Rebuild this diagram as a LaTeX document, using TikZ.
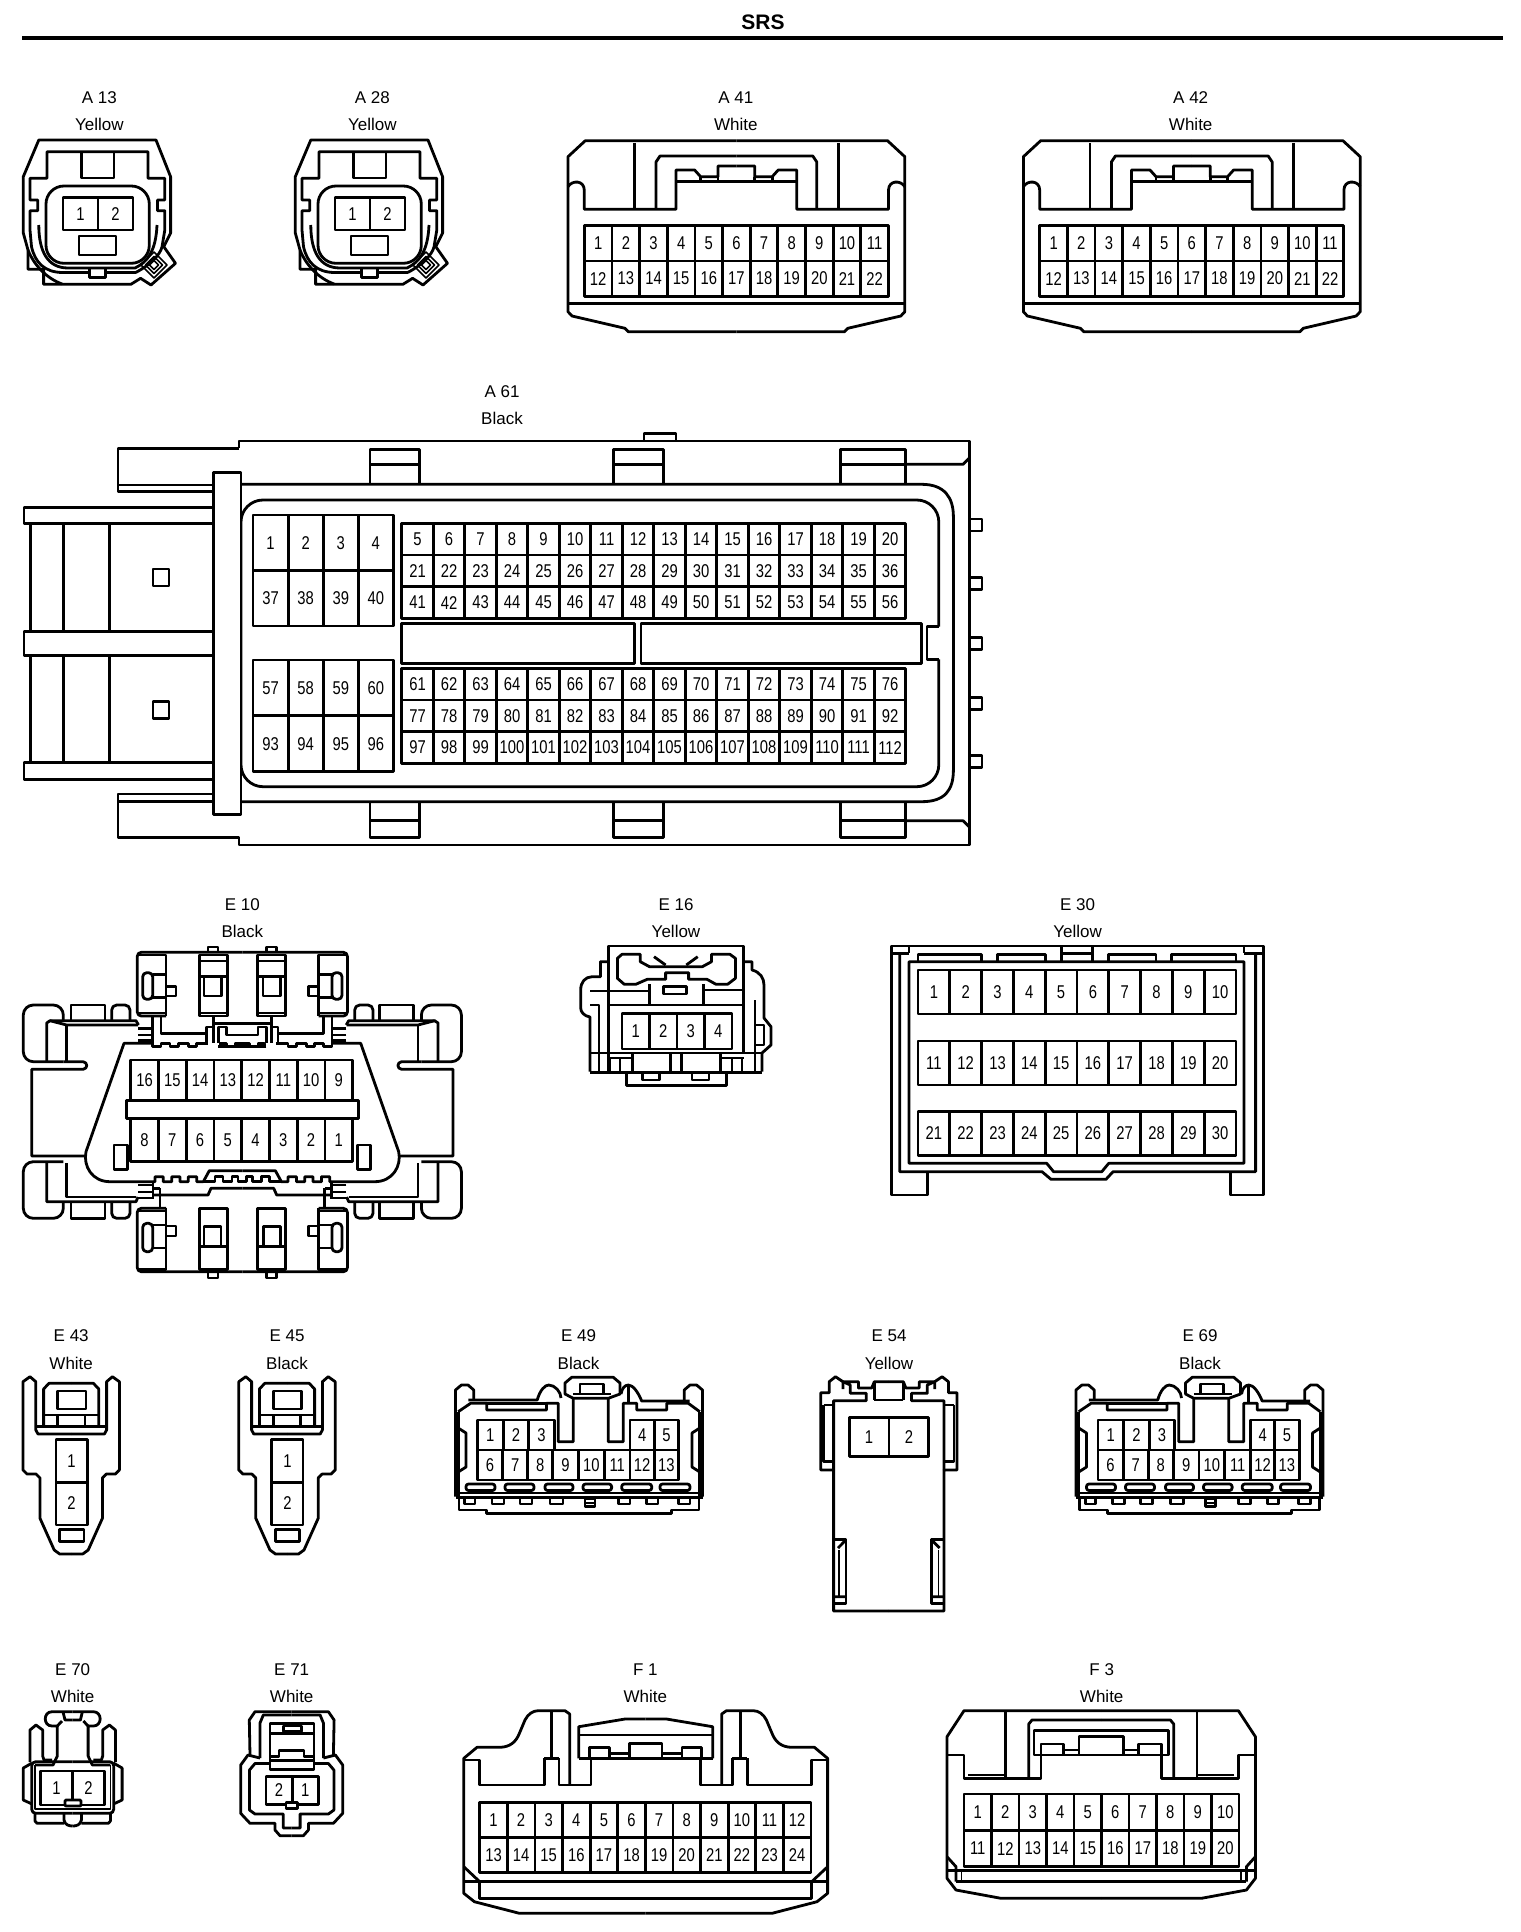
\documentclass[tikz,border=0pt]{standalone}
\usepackage{fontspec}
\setmainfont{Liberation Sans}
\newfontfamily\pinfont[FakeStretch=0.8]{Liberation Sans}

% Stili
\tikzset{
    pincell/.style={draw,rectangle,inner sep=0pt,fill=white,font={\pinfont\fontsize{18.5}{18.5}\selectfont}},
    tag/.style={anchor=base,inner sep=0pt,font={\fontsize{17}{17}\selectfont}},
    fineline/.style={line width=1.5pt},
    mirror/.style={shift={(#1,0)},xscale=-1}
}

% Una fila di pin: x, y, larghezza, altezza, nome, numeri
\newcommand{\pinrow}[6]{%
    \foreach \num [count=\i from 0] in {#6}{
        \node[pincell,minimum width=#3pt,minimum height=#4pt] (#5-\num) at ({#1+(\i+.5)*#3},{#2+.5*#4}) {\num};
    }
}
% Nome e colore del connettore
\newcommand{\conntag}[6]{%
    \node[tag] (#1) at (#2,#3) {#5};
    \node[tag] (#1c) at (#2,#4) {#6};
}
% Disegna una meta e la sua immagine
\newcommand{\bothsides}[2]{%
    \begin{scope}#2\end{scope}
    \begin{scope}[mirror=#1]#2\end{scope}
}

\begin{document}
\begin{tikzpicture}[x=1pt,y=-1pt,line width=2.8pt,line join=round]
    \useasboundingbox (0,0) rectangle (1520,1932);

    % Titolo
    \node[inner sep=0pt,anchor=base,font={\bfseries\fontsize{21}{21}\selectfont}] (title) at (763,30) {SRS};
    \coordinate (ruleL) at (22,38);
    \coordinate (ruleR) at (1503,38);
    \draw[line width=4pt] (ruleL) -- (ruleR);

    % Etichette
    \conntag{a13}{99.4}{104}{131}{A 13}{Yellow}
    \conntag{a28}{372.3}{104}{131}{A 28}{Yellow}
    \conntag{a41}{735.8}{104}{131}{A 41}{White}
    \conntag{a42}{1190.7}{104}{131}{A 42}{White}
    \conntag{a61}{502}{397.7}{424}{A 61}{Black}
    \conntag{e10}{242.3}{910}{937.7}{E 10}{Black}
    \conntag{e16}{676}{910}{937.7}{E 16}{Yellow}
    \conntag{e30}{1077.5}{910}{937.7}{E 30}{Yellow}
    \conntag{e43}{71.2}{1341}{1369.3}{E 43}{White}
    \conntag{e45}{287}{1341}{1369.3}{E 45}{Black}
    \conntag{e49}{578.5}{1341}{1369.3}{E 49}{Black}
    \conntag{e54}{889}{1341}{1369.3}{E 54}{Yellow}
    \conntag{e69}{1200}{1341}{1369.3}{E 69}{Black}
    \conntag{e70}{72.7}{1675.3}{1702.7}{E 70}{White}
    \conntag{e71}{291.7}{1675.3}{1702.7}{E 71}{White}
    \conntag{f1}{645.4}{1675.3}{1702.7}{F 1}{White}
    \conntag{f3}{1101.7}{1675.3}{1702.7}{F 3}{White}

    % Disegna A 13 e A 28
    \foreach \nm/\dx in {pa13/0,pa28/272}{
        \begin{scope}[shift={(\dx,0)}]
            \draw (38.8,140) -- (156,140) -- (170.6,176.7) -- (170.6,233) -- (163.8,246.7) -- (175.5,263.3) -- (151,285) -- (140.6,278.3) -- (130.9,284.3) -- (43.6,284.3) -- (43.6,269.3) -- (28,269.3) -- (28,250) -- (23.3,233) -- (23.3,176.7) -- cycle;
            \draw (135.7,272.5) .. controls (150,265) and (160,255) .. (162,247) -- (164.8,230) -- (164.8,210.7) -- (157.5,210.7) -- (157.5,200) -- (164.8,200) -- (164.8,178.3) -- (148,178.3) -- (148,151.7) -- (47,151.7) -- (47,178.3) -- (30,178.3) -- (30,200) -- (37.8,200) -- (37.8,210.7) -- (30,210.7) -- (30,230) -- (31.5,246.7) .. controls (35,262) and (44,272.5) .. (63,272.5) -- (89.7,272.5);
            \draw (89.7,268.3) -- (89.7,277.3) -- (105.7,277.3) -- (105.7,268.3);
            \draw (105.7,272.5) -- (135.7,272.5);
            \draw (81.4,151.7) -- (81.4,178) -- (114,178) -- (114,151.7);
            \draw[rounded corners=18pt] (46,186) rectangle (149.3,263.3);
            \draw (38.8,225) .. controls (38.8,252) and (48,268) .. (68,268) -- (135,268) .. controls (148,262) and (156,250) .. (157,225);
            \draw (28,250) .. controls (34,265) and (46,278) .. (62,284);
            \pinrow{63}{197.3}{35}{32.7}{\nm}{1,2}
            \draw (79,236) rectangle (116,255);
            \foreach \r in {13,8.5,4.5}{
                \draw[fineline] (154-\r,265) -- (154,265-\r) -- (154+\r,265) -- (154,265+\r) -- cycle;
            }
        \end{scope}
    }

    % Disegna A 41 e A 42
    \foreach \nm/\dx in {pa41/0,pa42/455.4}{
        \begin{scope}[shift={(\dx,0)}]
            \bothsides{1472.8}{
                \draw (736.4,140.7) -- (585.3,140.7) -- (568,156.7) -- (568,311.7) -- (572,316) -- (625,328.3) -- (628.3,331.7) -- (736.4,331.7);
                \draw (568,186.7) .. controls (572,180) and (584,180) .. (584.3,190) -- (584.3,209.3) -- (676,209.3) -- (676,170) -- (694.6,170) -- (700.6,176.7) -- (718,176.7) -- (718,166) -- (736.4,166);
                \draw (634.6,143) -- (634.6,209.3);
                \draw (656,209.3) -- (656,162) -- (660,156) -- (736.4,156);
                \draw (676,181.7) -- (736.4,181.7);
                \draw (700.6,176.7) -- (700.6,181.7) (718,176.7) -- (718,181.7);
            }
            \draw (568,303.5) -- (904.8,303.5);
            \pinrow{584.4}{225.7}{27.64}{35.2}{\nm}{1,...,11}
            \pinrow{584.4}{261}{27.64}{35.2}{\nm}{12,...,22}
        \end{scope}
    }

    % Disegna A 61
    \draw (239,448.3) -- (239,441) -- (969.4,441) -- (969.4,845) -- (239,845) -- (239,837.3) -- (118,837.3) -- (118,794) -- (213.6,794);
    \draw (239,448.3) -- (118,448.3) -- (118,491.7) -- (213.6,491.7);
    \draw (118,485) -- (213.6,485) (118,801.7) -- (213.6,801.7);
    \draw (644,441) -- (644,433.3) -- (676,433.3) -- (676,441);
    \foreach \lx/\lw in {370/49.6,613.5/49.8,840.5/65.1}{
        \draw (\lx,483.3) -- (\lx,449.3) -- (\lx+\lw,449.3) -- (\lx+\lw,483.3);
        \draw (\lx,464.3) -- (\lx+\lw,464.3);
        \draw (\lx,803) -- (\lx,837.3) -- (\lx+\lw,837.3) -- (\lx+\lw,803);
        \draw (\lx,820.7) -- (\lx+\lw,820.7);
    }
    \draw (905.6,464.3) -- (963,464.3) -- (969.4,458);
    \draw (905.6,820.7) -- (963,820.7) -- (969.4,827);
    \draw (241,484.3) -- (921.6,484.3) .. controls (945,484.3) and (953.4,498) .. (953.4,516.7) -- (953.4,770) .. controls (953.4,790) and (945,801.7) .. (921.6,801.7) -- (241,801.7);
    \draw (241,491.7) .. controls (230,498) and (224.5,508) .. (224.5,520) -- (224.5,766.7) .. controls (224.5,780) and (230,788) .. (241,794);
    \draw[rounded corners=22pt] (938.8,626.7) -- (938.8,500) -- (241,500) -- (241,786.7) -- (938.8,786.7) -- (938.8,659.3);
    \draw (938.8,626.7) -- (927,626.7) -- (927,659.3) -- (938.8,659.3);
    \draw[fill=white] (213.6,472.7) rectangle (241,814.3);
    \pinrow{253}{515}{35.1}{55.5}{pa61}{1,...,4}
    \pinrow{253}{570.5}{35.1}{55.5}{pa61}{37,...,40}
    \pinrow{253}{660}{35.1}{55.8}{pa61}{57,...,60}
    \pinrow{253}{715.8}{35.1}{55.8}{pa61}{93,...,96}
    \pinrow{401.8}{523.3}{31.5}{31.7}{pa61}{5,...,20}
    \pinrow{401.8}{555}{31.5}{31.7}{pa61}{21,...,36}
    \pinrow{401.8}{586.7}{31.5}{31.7}{pa61}{41,...,56}
    \pinrow{401.8}{668.3}{31.5}{31.7}{pa61}{61,...,76}
    \pinrow{401.8}{700}{31.5}{31.7}{pa61}{77,...,92}
    \pinrow{401.8}{731.7}{31.5}{31.7}{pa61}{97,...,112}
    \draw (401.8,623.3) rectangle (634.6,663.3);
    \draw (641,623.3) rectangle (921.6,663.3);
    \foreach \ty in {525,583.3,643.3,703.3,761.7}{
        \draw (969.4,\ty-6) -- (982,\ty-6) -- (982,\ty+6) -- (969.4,\ty+6);
    }
    \draw (213.6,507.3) -- (24,507.3) -- (24,523.3) -- (213.6,523.3);
    \draw (213.6,631.7) -- (24,631.7) -- (24,655.7) -- (213.6,655.7);
    \draw (213.6,762.7) -- (24,762.7) -- (24,779.3) -- (213.6,779.3);
    \foreach \vx in {30.6,63.8,109.7}{
        \draw (\vx,523.3) -- (\vx,631.7) (\vx,655.7) -- (\vx,762.7);
    }
    \draw (153,569) rectangle (169,586);
    \draw (153,701.7) rectangle (169,718.3);

    % Disegna E 10
    \bothsides{484.7}{
        % parte alta
        \draw[rounded corners=4pt] (242.4,952.3) -- (137.3,952.3) -- (137.3,1016) -- (166,1016);
        \draw (137.3,955) -- (166,955) -- (166,1016);
        \draw[rounded corners=4pt] (142.7,972.7) rectangle (152.7,999.3);
        \draw (152.7,974.3) -- (166,974.3) (152.7,997.3) -- (166,997.3) (137.3,1013) -- (166,1013);
        \draw (166,986.7) -- (176,986.7) -- (176,996) -- (166,996);
        \draw (199.3,955) rectangle (227.3,1016);
        \draw (199.3,961) -- (227.3,961) (199.3,976.7) -- (227.3,976.7) (199.3,1013) -- (227.3,1013);
        \draw (204,976.7) -- (204,996) -- (221.7,996) -- (221.7,976.7);
        \draw (208,952.3) -- (208,947) -- (218,947) -- (218,952.3);
        \draw (213.3,1016) -- (213.3,1043) (213.3,1023.3) -- (242.4,1023.3);
        \draw (218.3,1043) -- (218.3,1027) -- (226.7,1027) -- (226.7,1035) -- (242.4,1035);
        \draw (152.7,1016) -- (152.7,1043) (161,1016) -- (161,1033.3) -- (206.7,1033.3) -- (206.7,1027) -- (213.3,1027);
        \draw (206.7,1033.3) -- (206.7,1043);
        \draw (138.3,1028.3) -- (152.7,1028.3) (138.3,1035) -- (152.7,1035) (138.3,1040.7) -- (152.7,1040.7);
        \draw (152.7,1043.3) -- (152.7,1046.7) -- (161,1046.7) -- (161,1043.3) -- (170,1043.3) -- (170,1046.7) -- (178.3,1046.7) -- (178.3,1043.3) -- (188.3,1043.3) -- (188.3,1046.7) -- (196.7,1046.7) -- (196.7,1043.3) -- (208.3,1043.3);
        \draw (220,1046.7) -- (220,1043.3) -- (226.7,1043.3) -- (226.7,1046.7) -- (235,1046.7) -- (235,1043.3) -- (242.4,1043.3);
        \draw (218.3,1046.7) -- (242.4,1046.7);
        % contorno
        \draw (152.7,1043.3) -- (124,1043.3) -- (86,1151.7) .. controls (83,1166) and (92,1181.7) .. (110,1181.7) -- (155,1181.7) -- (155,1176.7) -- (163.3,1176.7) -- (163.3,1181.7) -- (171.7,1181.7) -- (171.7,1176.7) -- (180,1176.7) -- (180,1181.7) -- (188.3,1181.7) -- (188.3,1176.7) -- (196.7,1176.7) -- (196.7,1181.7) -- (203.3,1181.7) -- (209.3,1170.7) -- (242.4,1170.7);
        \draw (203.3,1181.7) -- (215,1181.7) -- (215,1176.7) -- (223,1176.7) -- (223,1181.7) -- (232,1181.7) -- (232,1176.7) -- (238,1176.7) -- (238,1181.7) -- (242.4,1181.7);
        % orecchie
        \draw[rounded corners=10pt] (63.3,1020) -- (63.3,1005) -- (23.3,1005) -- (23.3,1061.7) -- (63.3,1061.7);
        \draw (71,1020) -- (71,1005) -- (105,1005) -- (105,1020);
        \draw[rounded corners=5pt] (111.7,1020) -- (111.7,1005) -- (130,1005) -- (130,1020);
        \draw (46.7,1061.7) -- (46.7,1023) -- (50,1020.7) -- (136,1020.7) -- (138.5,1025);
        \draw (50,1020.7) -- (66.7,1025) -- (138,1025);
        \draw (66.7,1025) -- (66.7,1061.7);
        \draw (63.3,1061.7) -- (83,1061.7) .. controls (88,1062) and (88,1069) .. (83,1069.3) -- (31.7,1069.3) -- (31.7,1156) -- (85,1156);
        \draw[rounded corners=10pt] (63.3,1161.7) -- (23.3,1161.7) -- (23.3,1218.3) -- (63.3,1218.3) -- (63.3,1201);
        \draw (71,1201.7) -- (71,1218.3) -- (105,1218.3) -- (105,1201.7);
        \draw[rounded corners=5pt] (111.7,1201.7) -- (111.7,1218.3) -- (130,1218.3) -- (130,1201.7);
        \draw (46.7,1163) -- (46.7,1201.7) -- (136,1201.7) -- (138,1197);
        \draw (66.7,1163) -- (66.7,1197) -- (136,1197);
        % parte bassa
        \draw[rounded corners=4pt] (242.4,1271.7) -- (137.3,1271.7) -- (137.3,1208.3) -- (166,1208.3);
        \draw (166,1208.3) -- (166,1269.5) -- (137.3,1269.5) (137.3,1211) -- (166,1211);
        \draw[rounded corners=4pt] (142.7,1223.3) rectangle (152.7,1251.7);
        \draw (152.7,1225) -- (166,1225) (152.7,1248) -- (166,1248);
        \draw (166,1226) -- (176,1226) -- (176,1236) -- (166,1236);
        \draw (199.3,1208.3) rectangle (227.3,1269.5);
        \draw (199.3,1246.7) -- (227.3,1246.7);
        \draw (204,1246.7) -- (204,1226.7) -- (221,1226.7) -- (221,1246.7);
        \draw (208,1271.7) -- (208,1278) -- (218,1278) -- (218,1271.7);
        \draw (153.3,1195) -- (208,1195) -- (211,1188.3) -- (242.4,1188.3);
        \draw (138.3,1185) -- (153,1185) (138.3,1192) -- (153,1192) (138.3,1198) -- (153,1198);
        \draw (153,1181.7) -- (153,1199) (160,1188.3) -- (160,1208.3) (153,1188.3) -- (160,1188.3);
    }
    \pinrow{130.7}{1060}{27.75}{40.7}{pe10}{16,15,14,13,12,11,10,9}
    \pinrow{130.7}{1118.3}{27.75}{43.4}{pe10}{8,7,6,5,4,3,2,1}
    \draw[fill=white] (126.7,1100.7) rectangle (358.3,1118.3);
    \draw (114,1145) rectangle (127.3,1169.3);
    \draw (357.3,1145) rectangle (370.3,1169.3);

    % Disegna E 16
    \draw (608.2,1005) -- (608.2,946) -- (743.7,946) -- (743.7,1005);
    \draw (703.3,990) -- (743.7,990);
    \draw (622,954.3) -- (640.3,954.3) -- (640.3,961.7) -- (649.5,966.7) -- (702.3,966.7) -- (711.5,961.7) -- (711.5,954.3) -- (729.9,954.3) -- (735.4,958.3) -- (735.4,978.3) -- (727.6,984.3) -- (716,984.3) -- (707,979.3) -- (688.6,979.3) -- (688.6,972.7) -- (665.6,972.7) -- (665.6,979.3) -- (647.2,979.3) -- (635.8,984.3) -- (624.3,984.3) -- (617.4,978.3) -- (617.4,958.3) -- cycle;
    \draw (654,956.7) -- (665.6,965) (697.7,956.7) -- (686.3,965);
    \draw (608.2,961.7) -- (600.4,961.7) -- (600.4,976.7) -- (592,976.7) .. controls (585,977) and (580.7,982) .. (580.7,990) -- (580.7,1008) .. controls (580.7,1012) and (584,1016) .. (590,1017) -- (590,1071.7);
    \draw (590,991) -- (649.5,991) (590,1005) -- (599,1005) -- (599,1071.7);
    \draw (608.2,1071.7) -- (608.2,1005) -- (743.7,1005) -- (743.7,1053);
    \draw (649.5,984.3) -- (649.5,1005) (703.3,984.3) -- (703.3,1005);
    \draw (663.3,986.7) rectangle (686.3,994);
    \draw (743.7,961.7) -- (752,961.7) -- (752,970) .. controls (760,972) and (764,978) .. (764,985) -- (764,1018) -- (771,1026.7) -- (771,1045) -- (762,1053) -- (762,1071.7);
    \draw (755,1000) -- (755,1071.7) (755,1025) -- (764,1025) -- (764,1045) -- (755,1045);
    \pinrow{622}{1013.3}{27.5}{35.7}{pe16}{1,2,3,4}
    \draw (590,1053) -- (762,1053) (590,1072.3) -- (762,1072.3);
    \draw (632.5,1053) rectangle (670.2,1072.3);
    \draw (681.7,1053) rectangle (720.7,1072.3);
    \draw (610,1058) -- (610,1072) (620,1058) -- (620,1072) (732,1058) -- (732,1072) (742,1058) -- (742,1072);
    \draw (608.2,1058) -- (632.5,1058) (720.7,1058) -- (743.7,1058);
    \draw (626.6,1072.3) -- (626.6,1085.7) -- (726.2,1085.7) -- (726.2,1072.3);
    \draw (642.6,1072.3) -- (642.6,1080) -- (659.6,1080) -- (659.6,1072.3);
    \draw (692,1072.3) -- (692,1080) -- (709,1080) -- (709,1072.3);

    % Disegna E 30
    \draw (927.6,1171.7) -- (927.6,1195) -- (891.5,1195) -- (891.5,946) -- (1263.4,946) -- (1263.4,1195) -- (1230.3,1195) -- (1230.3,1171.7);
    \draw (899.8,953.3) -- (899.8,1171.7) -- (1042,1171.7) -- (1051,1179.3) -- (1106,1179.3) -- (1113,1171.7) -- (1255.6,1171.7) -- (1255.6,953.3);
    \draw (909,961.7) -- (1244,961.7) -- (1244,1163.3) -- (1108.7,1163.3) -- (1101.8,1171.7) -- (1053.6,1171.7) -- (1046.7,1163.3) -- (909,1163.3) -- cycle;
    \draw (891.5,953.3) -- (909,953.3) (1244,953.3) -- (1263.4,953.3);
    \draw (909,946) -- (909,953.3) (1244,946) -- (1244,953.3);
    \foreach \tl/\tr in {918/981.5,997.6/1045.8,1108.7/1156,1171.6/1235.9}{
        \draw (\tl,961.7) -- (\tl,954.3) -- (\tr,954.3) -- (\tr,961.7);
    }
    \draw (1061.4,946) -- (1061.4,961.7) (1092.6,946) -- (1092.6,961.7) (1061.4,953.3) -- (1092.6,953.3);
    \pinrow{918}{970}{31.8}{44}{pe30}{1,...,10}
    \pinrow{918}{1041}{31.8}{44}{pe30}{11,...,20}
    \pinrow{918}{1111.5}{31.8}{44}{pe30}{21,...,30}

    % Disegna E 43 e E 45
    \foreach \nm/\dx in {pe43/0,pe45/215.8}{
        \begin{scope}[shift={(\dx,0)}]
            \bothsides{142.4}{
                \draw (71.2,1554) -- (59.7,1554) -- (54.2,1550) -- (40,1518.3) -- (40,1478) -- (36,1474) -- (27,1474) -- (23,1470) -- (23,1381.7) -- (30,1376.7) -- (35.8,1381.7) -- (35.8,1430) -- (38,1434) -- (71.2,1434);
                \draw (71.2,1383.3) -- (49,1383.3) -- (43.6,1389) -- (43.6,1426.7);
                \draw (35.8,1426.7) -- (71.2,1426.7) (43.6,1415) -- (71.2,1415) (57.4,1415) -- (57.4,1426.7);
            }
            \draw (57.4,1391) rectangle (85.9,1409);
            \pinrow{56}{1439.3}{31.2}{42.8}{\nm}{1}
            \pinrow{56}{1482.1}{31.2}{42.8}{\nm}{2}
            \draw (59.7,1529.3) rectangle (84,1541.7);
        \end{scope}
    }

    % Disegna E 49 e E 69
    \foreach \nm/\dx in {pe49/0,pe69/620.5}{
        \begin{scope}[shift={(\dx,0)}]
            \bothsides{1158}{
                \draw (455.5,1496.7) -- (455.5,1390) -- (461.4,1385) -- (468,1385) -- (473.8,1390) -- (473.8,1400);
                \draw (458.2,1428) -- (466,1433) -- (466,1467) -- (458.2,1472);
                \draw (459,1497.3) -- (459,1510) -- (486.7,1510) -- (486.7,1513.3) -- (579,1513.3);
                \draw (455.5,1497.3) -- (579,1497.3) (458.2,1493) -- (579,1493);
                \draw (458.2,1496.7) -- (458.2,1411.7);
            }
            % lato sinistro del corpo
            \draw (468.3,1400) -- (537.2,1400) .. controls (540,1390) and (545,1385) .. (548.7,1385) .. controls (555,1385) and (561,1392) .. (561,1398);
            \draw (458.2,1411.7) -- (470.6,1403.3) -- (486.7,1403.3) -- (486.7,1410) -- (546.4,1410) -- (546.4,1403.3) -- (558.3,1403.3) -- (558.3,1441.7) -- (573.3,1441.7) -- (573.3,1398.3);
            \draw (486.7,1403.3) -- (546.4,1403.3);
            % lato destro del corpo
            \draw (621,1394) .. controls (622,1388) and (625,1385) .. (628.3,1385) .. controls (633,1385) and (638,1392) .. (641.7,1401) -- (689.7,1401);
            \draw (699.8,1411.7) -- (688.3,1403.3) -- (666.7,1403.3) -- (666.7,1410) -- (636.7,1410) -- (636.7,1403.3) -- (623.3,1403.3) -- (623.3,1441.7) -- (608.3,1441.7) -- (608.3,1398.3);
            \draw (628.3,1386) -- (628.3,1403.3);
            % linguetta
            \draw (565,1394) -- (565,1383) -- (571.7,1377.3) -- (613.3,1377.3) -- (620,1383) -- (620,1394) -- (608.3,1398.3) -- (573.3,1398.3) -- cycle;
            \draw (573.3,1394) -- (611,1394);
            \draw (580,1384) rectangle (603.3,1394);
            \pinrow{477.5}{1420}{25.6}{30}{\nm}{1,2,3}
            \pinrow{630}{1420}{24.3}{30}{\nm}{4,5}
            \pinrow{477.5}{1450}{25.1}{30}{\nm}{6,7,8}
            \pinrow{552.7}{1450}{25.8}{30}{\nm}{9,10,11}
            \pinrow{630}{1450}{24.3}{30}{\nm}{12,13}
            \foreach \sl/\sr in {466/495,505/534,545/573,583/611.6,621.7/651.7,660/690}{
                \draw[rounded corners=2.5pt] (\sl,1484) rectangle (\sr,1490.5);
            }
            \foreach \sl/\sr in {464.6/475,492/504,520/532,550/563,618.3/630,646.7/658,678.3/690}{
                \draw (\sl,1499) -- (\sl,1504) -- (\sr,1504) -- (\sr,1499);
            }
            \draw (585,1499) rectangle (595,1506.5);
            \draw (585,1503) -- (595,1503);
        \end{scope}
    }

    % Disegna E 54
    \bothsides{1777.6}{
        \draw (888.8,1611) -- (833.6,1611) -- (833.6,1470) -- (820.7,1470) -- (820.7,1392.7) -- (829.2,1392.7) -- (829.2,1381.7) -- (835.5,1376.7) -- (842.9,1381.7) -- (842.9,1389);
        \draw (833.6,1470) -- (833.6,1400.7) -- (866.2,1400.7) -- (866.2,1393.3) -- (850.3,1393.3) -- (850.3,1385) -- (842.9,1381.7) -- (858.4,1381.7) -- (858.4,1388) -- (871.7,1388) -- (874.3,1381.7) -- (888.8,1381.7);
        \draw (874.3,1381.7) -- (874.3,1400);
        \draw (874.3,1400) -- (888.8,1400);
        \draw (823.7,1405) -- (833.6,1405) (823.7,1405) -- (823.7,1461.7) -- (833.6,1461.7);
        \draw (834.8,1539.3) -- (845.9,1539.3) -- (845.9,1603.3) -- (834.8,1603.3);
        \draw (834.8,1596.7) -- (845.9,1596.7) (838,1548) -- (845.9,1540);
        \draw[fineline] (839,1550) -- (839,1596);
    }
    \pinrow{849.2}{1417.3}{39.8}{39.4}{pe54}{1,2}

    % Disegna E 70
    \bothsides{145.4}{
        \draw (72.7,1711.7) -- (52,1711.7) .. controls (43,1711.7) and (43,1726) .. (52,1726) -- (57.3,1726) -- (57.3,1756) -- (53,1765) -- (35,1765);
        \draw (63,1711.7) -- (65,1720) -- (72.7,1720);
        \draw (57.3,1726) -- (62,1721);
        \draw (52,1760) -- (44,1760) -- (42.7,1756) -- (42.7,1730) -- (36,1725) -- (30,1730) -- (30,1762);
        \draw (32,1763) -- (23.3,1768) -- (23.3,1800) -- (32,1804);
        \draw[rounded corners=4pt] (72.7,1761.7) -- (31.7,1761.7) -- (31.7,1813.3) -- (72.7,1813.3);
        \draw[fineline] (72.7,1809) -- (35,1809) -- (35,1765);
        \draw (35,1813.3) -- (35,1821) -- (37,1823.3) -- (64,1823.3);
        \draw (64,1813.3) -- (64,1820) .. controls (65,1825) and (69,1826) .. (72.7,1826);
    }
    \pinrow{40.7}{1771}{31.8}{34}{pe70}{1,2}
    \draw[fill=white,rounded corners=1pt] (65,1800) rectangle (81,1806);

    % Disegna E 71
    \bothsides{583.4}{
        \draw (291.7,1835.7) -- (280,1835.7) -- (275,1830) -- (275,1823.3) -- (250,1823.3) -- (240.7,1813.3) -- (240.7,1765) -- (248,1755) -- (260,1758);
        \draw (250,1755) -- (249.3,1720) -- (255,1711.7) -- (291.7,1711.7);
        \draw (260,1758) -- (260,1723) -- (263.3,1715) -- (291.7,1715);
        \draw (291.7,1828) -- (283.3,1828) -- (283.3,1814) -- (255,1814) -- (249.5,1810) -- (249.5,1770) -- (255,1763.5) -- (270,1763.5);
    }
    \draw (270,1723.3) rectangle (314,1769.3);
    \draw (270,1733.3) -- (314,1733.3) (270,1760.7) -- (314,1760.7);
    \draw (283.3,1726) rectangle (301.7,1731.7);
    \draw (270,1756.7) -- (279,1756.7) -- (279,1750.7) -- (304,1750.7) -- (304,1756.7) -- (314,1756.7);
    \pinrow{266}{1776.7}{26.2}{27.6}{pe71}{2,1}
    \draw[fill=white] (286,1802.3) rectangle (297.7,1808.3);

    % Disegna F 1
    \bothsides{1291.4}{
        \draw (645.7,1913.3) -- (519.4,1913.3) -- (474.4,1901.7) -- (463.8,1893.3) -- (463.8,1758.3) -- (477,1747.3) -- (500,1747.3) .. controls (510,1747) and (516,1742) .. (519.4,1733.3) -- (525,1720) .. controls (528,1714) and (533,1710.7) .. (538,1710.7) -- (565,1710.7) -- (569.7,1714) -- (569.7,1785);
        \draw (551.2,1710.7) -- (551.2,1758.3) (544.3,1758.3) -- (559,1758.3);
        \draw (463.8,1760) -- (479.7,1760) -- (479.7,1785) -- (544.3,1785) -- (544.3,1758.3);
        \draw (559,1758.3) -- (559,1785) -- (590.9,1785) -- (590.9,1758.3);
        \draw (578.7,1758.3) -- (578.7,1726.7) -- (625,1719) -- (645.7,1719);
        \draw (578.7,1735) -- (645.7,1735) (578.7,1758.3) -- (645.7,1758.3);
        \draw (589.8,1758.3) -- (589.8,1747.3) -- (609.4,1747.3) -- (609.4,1758.3);
        \draw (609.4,1753.3) -- (629.5,1753.3);
        \draw (629.5,1758.3) -- (629.5,1743.3) -- (645.7,1743.3);
        \draw (463.8,1866.7) -- (479.7,1881.7);
        \draw (479.7,1881.7) -- (479.7,1898.3) -- (645.7,1898.3);
    }
    \draw (463.8,1881.7) -- (827.6,1881.7);
    \pinrow{479.7}{1802.3}{27.6}{35}{pf1}{1,...,12}
    \pinrow{479.7}{1837.3}{27.6}{35}{pf1}{13,...,24}

    % Disegna F 3
    \bothsides{2202.4}{
        \draw (1101.2,1898.3) -- (1001,1898.3) -- (956,1890) -- (947,1878.3) -- (947,1736.7) -- (964,1710.7) -- (1101.2,1710.7);
        \draw (947,1755) -- (964,1755) -- (964,1778.3) -- (1041,1778.3) -- (1041,1755);
        \draw[fineline] (968,1775) -- (1005.4,1775);
        \draw (1005.4,1711) -- (1005.4,1778.3);
        \draw (1028.7,1778.3) -- (1028.7,1724) -- (1032,1720) -- (1101.2,1720);
        \draw (1101.2,1730.7) -- (1034,1730.7) -- (1034,1755) -- (1101.2,1755);
        \draw (1041,1755) -- (1041,1744) -- (1063.6,1744) -- (1063.6,1755);
        \draw (1063.6,1750) -- (1079,1750);
        \draw (1079,1755) -- (1079,1736.7) -- (1101.2,1736.7);
        \draw (947,1856.7) -- (956,1866.7) -- (956,1881.7);
        \draw[fineline] (961.5,1870) -- (961.5,1881.7);
    }
    \draw (947,1870.7) -- (1255.4,1870.7);
    \draw (956,1881.7) -- (1246.4,1881.7);
    \pinrow{964}{1794}{27.5}{36.4}{pf3}{1,...,10}
    \pinrow{964}{1830.4}{27.5}{36.4}{pf3}{11,...,20}
\end{tikzpicture}
\end{document}
